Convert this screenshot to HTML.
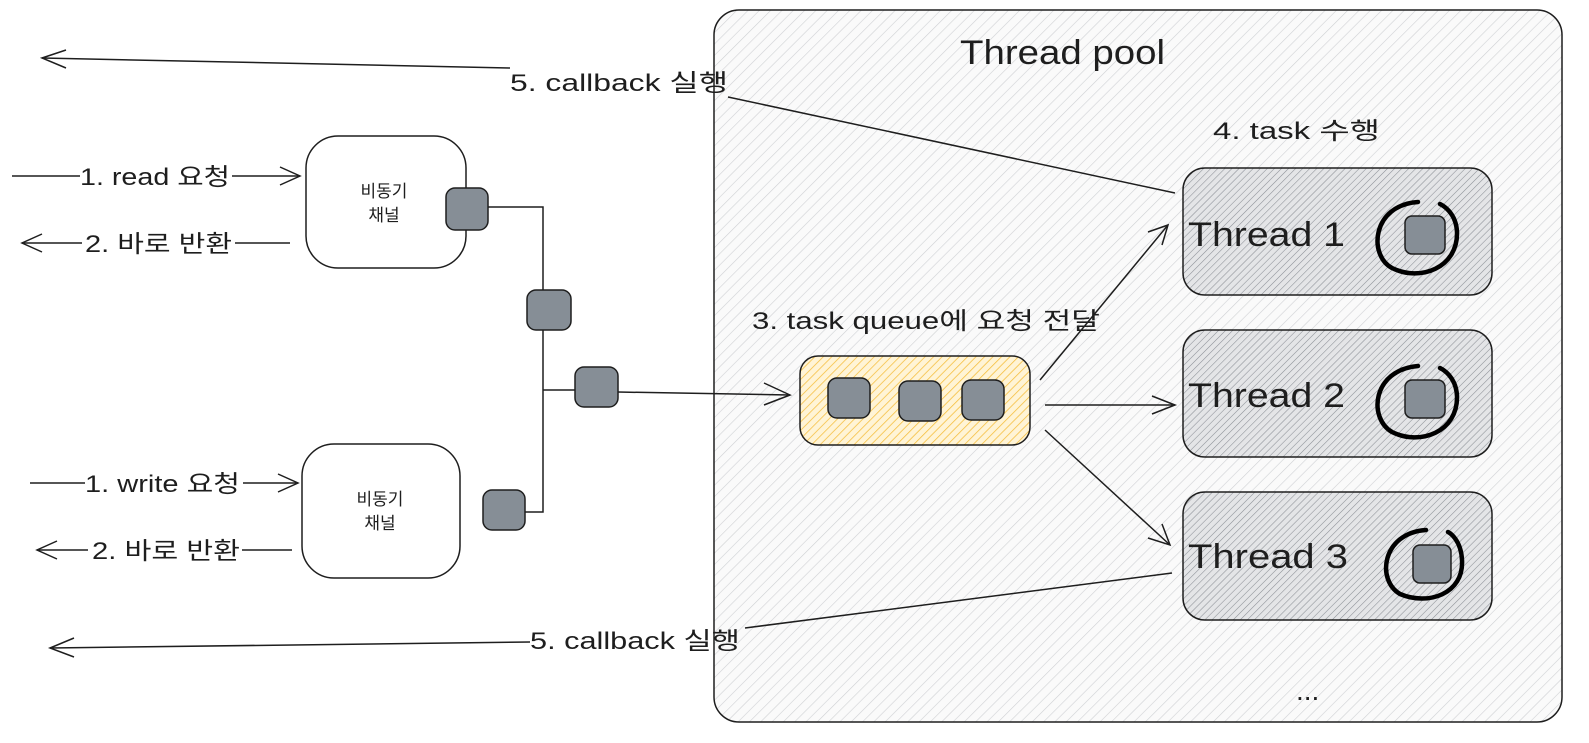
<!DOCTYPE html>
<html><head><meta charset="utf-8"><style>
html,body{margin:0;padding:0;background:#fff;}
svg{display:block;}
text{font-family:"Liberation Sans","Noto Sans CJK KR",sans-serif;fill:#1e1e1e;}
</style></head><body>
<svg width="1589" height="743" viewBox="0 0 1589 743" xmlns="http://www.w3.org/2000/svg">
<defs>
<pattern id="h1" width="8" height="8" patternUnits="userSpaceOnUse" patternTransform="rotate(45)">
<rect width="8" height="8" fill="#fafafa"/><line x1="0" y1="0" x2="0" y2="8" stroke="#cfd1d4" stroke-width="1.2"/></pattern>
<pattern id="h2" width="5" height="5" patternUnits="userSpaceOnUse" patternTransform="rotate(45)">
<rect width="5" height="5" fill="#e4e5e7"/><line x1="0" y1="0" x2="0" y2="5" stroke="#8c9096" stroke-width="1.1"/></pattern>
<pattern id="h3" width="6" height="6" patternUnits="userSpaceOnUse" patternTransform="rotate(45)">
<rect width="6" height="6" fill="#fff4d6"/><line x1="0" y1="0" x2="0" y2="6" stroke="#f5bd3a" stroke-width="1.5"/></pattern>
</defs>
<g stroke="#1e1e1e" stroke-width="1.5" fill="none">
<rect x="714" y="10" width="848" height="712" rx="25" fill="url(#h1)"/>
<rect x="1183" y="168" width="309" height="127" rx="22" fill="url(#h2)"/>
<rect x="1183" y="330" width="309" height="127" rx="22" fill="url(#h2)"/>
<rect x="1183" y="492" width="309" height="128" rx="22" fill="url(#h2)"/>
<rect x="800" y="356" width="230" height="89" rx="18" fill="url(#h3)"/>
<rect x="306" y="136" width="160" height="132" rx="32" fill="#fff"/>
<rect x="302" y="444" width="158" height="134" rx="32" fill="#fff"/>
<path d="M488 207 H543 V512 H525"/>
<path d="M543 390 H575"/>
<path d="M618 392 L790 395"/>
<path d="M764 383 L790 395 L764 405"/>
<path d="M1040 380 L1168 225"/><path d="M1148 232 L1168 225 L1162 245"/>
<path d="M1045 405 L1175 405"/><path d="M1152 396 L1175 405 L1152 414"/>
<path d="M1045 430 L1170 545"/><path d="M1148 538 L1170 545 L1162 524"/>
<path d="M1175 193 L728 97"/>
<path d="M510 68 L42 58"/><path d="M66 50 L42 58 L66 68"/>
<path d="M1172 573 L745 628"/>
<path d="M530 642 L50 648"/><path d="M74 638 L50 648 L74 657"/>
<path d="M12 176 H80"/><path d="M232 176 H300"/><path d="M280 167 L300 176 L280 185"/>
<path d="M290 243 H235"/><path d="M82 243 H22"/><path d="M42 234 L22 243 L42 252"/>
<path d="M30 483 H85"/><path d="M243 483 H298"/><path d="M278 474 L298 483 L278 492"/>
<path d="M292 550 H242"/><path d="M88 550 H37"/><path d="M57 541 L37 550 L57 559"/>
</g>
<g fill="#868e96" stroke="#1e1e1e" stroke-width="1.5">
<rect x="446" y="188" width="42" height="42" rx="9"/>
<rect x="527" y="290" width="44" height="40" rx="9"/>
<rect x="575" y="367" width="43" height="40" rx="9"/>
<rect x="483" y="490" width="42" height="40" rx="9"/>
<rect x="828" y="378" width="42" height="40" rx="9"/>
<rect x="899" y="381" width="42" height="40" rx="9"/>
<rect x="962" y="380" width="42" height="40" rx="9"/>
<rect x="1405" y="216" width="40" height="38" rx="7"/>
<rect x="1405" y="380" width="40" height="38" rx="7"/>
<rect x="1413" y="545" width="38" height="38" rx="7"/>
</g>
<g stroke="#000" stroke-width="4.5" fill="none" stroke-linecap="round">
<path d="M1418 202 C1372 205 1368 255 1392 268 C1420 282 1458 268 1457 232 C1456 212 1442 205 1440 204"/>
<path d="M1418 366 C1372 370 1368 418 1392 432 C1420 446 1458 432 1457 396 C1456 376 1442 369 1440 368"/>
<path d="M1426 530 C1382 533 1376 580 1400 594 C1428 606 1464 594 1462 560 C1461 540 1450 533 1448 532"/>
</g>
<g font-size="34">
<text x="960" y="64" textLength="205" lengthAdjust="spacingAndGlyphs">Thread pool</text>
<text x="1188" y="246" textLength="157" lengthAdjust="spacingAndGlyphs">Thread 1</text>
<text x="1188" y="407" textLength="157" lengthAdjust="spacingAndGlyphs">Thread 2</text>
<text x="1188" y="568" textLength="160" lengthAdjust="spacingAndGlyphs">Thread 3</text>
</g>
<g font-size="24">
<text x="510" y="91" textLength="218" lengthAdjust="spacingAndGlyphs">5. callback 실행</text>
<text x="530" y="649" textLength="210" lengthAdjust="spacingAndGlyphs">5. callback 실행</text>
<text x="1213" y="139" textLength="167" lengthAdjust="spacingAndGlyphs">4. task 수행</text>
<text x="752" y="329" textLength="348" lengthAdjust="spacingAndGlyphs">3. task queue에 요청 전달</text>
<text x="80" y="185" textLength="150" lengthAdjust="spacingAndGlyphs">1. read 요청</text>
<text x="85" y="252" textLength="147" lengthAdjust="spacingAndGlyphs">2. 바로 반환</text>
<text x="85" y="492" textLength="155" lengthAdjust="spacingAndGlyphs">1. write 요청</text>
<text x="92" y="559" textLength="148" lengthAdjust="spacingAndGlyphs">2. 바로 반환</text>
<text x="1296" y="700" font-size="28">...</text>
</g>
<g font-size="17" text-anchor="middle">
<text x="384" y="197">비동기</text><text x="384" y="221">채널</text>
<text x="380" y="505">비동기</text><text x="380" y="529">채널</text>
</g>
</svg>
</body></html>
